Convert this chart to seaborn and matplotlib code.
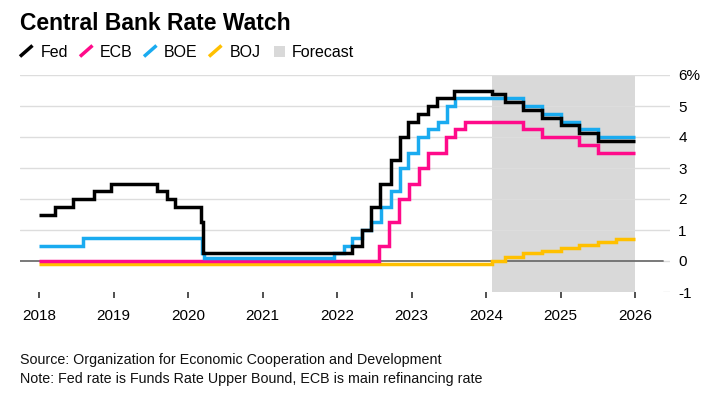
import pandas as pd
import matplotlib.pyplot as plt
import seaborn as sns
from matplotlib.lines import Line2D
from matplotlib.patches import Rectangle

# Policy rate paths (step changes), history + OECD forecast from Feb 2024
fed_dates = ["2018-01-01", "2018-03-22", "2018-06-14", "2018-09-27", "2018-12-20",
             "2019-08-01", "2019-09-19", "2019-10-31", "2020-03-04", "2020-03-16",
             "2022-03-17", "2022-05-05", "2022-06-16", "2022-07-28", "2022-09-22",
             "2022-11-03", "2022-12-15", "2023-02-02", "2023-03-23", "2023-05-04",
             "2023-07-27", "2024-02-01", "2024-04-01", "2024-07-01", "2024-10-01",
             "2025-01-01", "2025-04-01", "2025-07-01", "2026-01-01"]
fed_rates = [1.50, 1.75, 2.00, 2.25, 2.50,
             2.25, 2.00, 1.75, 1.25, 0.25,
             0.50, 1.00, 1.75, 2.50, 3.25,
             4.00, 4.50, 4.75, 5.00, 5.25,
             5.50, 5.375, 5.125, 4.875, 4.625,
             4.375, 4.125, 3.875, 3.875]

ecb_dates = ["2018-01-01", "2022-07-27", "2022-09-14", "2022-11-02", "2022-12-21",
             "2023-02-08", "2023-03-22", "2023-06-21", "2023-08-02", "2023-09-20",
             "2024-07-01", "2024-10-01", "2025-04-01", "2025-07-01", "2026-01-01"]
ecb_rates = [0.00, 0.50, 1.25, 2.00, 2.50,
             3.00, 3.50, 4.00, 4.25, 4.50,
             4.25, 4.00, 3.75, 3.50, 3.50]

boe_dates = ["2018-01-01", "2018-08-02", "2020-03-11", "2020-03-19", "2021-12-16",
             "2022-02-03", "2022-03-17", "2022-05-05", "2022-06-16", "2022-08-04",
             "2022-09-22", "2022-11-03", "2022-12-15", "2023-02-02", "2023-03-23",
             "2023-05-11", "2023-06-22", "2023-08-03", "2024-07-01", "2024-10-01",
             "2025-01-01", "2025-04-01", "2025-07-01", "2026-01-01"]
boe_rates = [0.50, 0.75, 0.25, 0.10, 0.25,
             0.50, 0.75, 1.00, 1.25, 1.75,
             2.25, 3.00, 3.50, 4.00, 4.25,
             4.50, 5.00, 5.25, 5.00, 4.75,
             4.50, 4.25, 4.00, 4.00]

boj_dates = ["2018-01-01", "2024-02-01", "2024-04-01", "2024-07-01", "2024-10-01",
             "2025-01-01", "2025-04-01", "2025-07-01", "2025-10-01", "2026-01-01"]
boj_rates = [-0.10, 0.00, 0.125, 0.25, 0.325,
             0.425, 0.525, 0.625, 0.725, 0.725]

banks = ["Fed", "ECB", "BOE", "BOJ"]
colors = {"Fed": "#000000", "ECB": "#ff0a8a", "BOE": "#1aabf0", "BOJ": "#ffc000"}
forecast_start, forecast_end = "2024-02-01", "2026-01-01"
years = list(range(2018, 2027))

rows = []
for bank, dates, rates in [("Fed", fed_dates, fed_rates), ("ECB", ecb_dates, ecb_rates),
                           ("BOE", boe_dates, boe_rates), ("BOJ", boj_dates, boj_rates)]:
    for d, r in zip(dates, rates):
        rows.append({"date": pd.Timestamp(d), "rate": r, "bank": bank})
df = pd.DataFrame(rows)

sns.set_style("white")
plt.rcParams["font.family"] = ["Liberation Sans", "DejaVu Sans"]
plt.rcParams["text.color"] = "black"

W, H = 713, 394
fig = plt.figure(figsize=(W / 100, H / 100), dpi=100)
ax = fig.add_axes([20 / W, 1 - 292 / H, 650 / W, (292 - 75) / H])

# background: forecast band, grid, zero line
ax.axvspan(pd.Timestamp(forecast_start), pd.Timestamp(forecast_end),
           color="#d9d9d9", lw=0, zorder=0)
for v in range(1, 7):
    ax.axhline(v, color="#dddddd", lw=1, zorder=0.5)
ax.axhline(0, xmax=0.989, color="#6e6e6e", lw=1.3, zorder=1)
ax.axhline(0, xmin=0.989, color="#dddddd", lw=1, zorder=0.5)
ax.axhline(-1, xmin=0.989, color="#dddddd", lw=1, zorder=0.5)

sns.lineplot(data=df, x="date", y="rate", hue="bank",
             hue_order=["BOJ", "ECB", "BOE", "Fed"], palette=colors,
             drawstyle="steps-post", estimator=None, linewidth=2.5,
             solid_joinstyle="miter", solid_capstyle="butt",
             legend=False, ax=ax, zorder=3)

ax.set_xlim(pd.Timestamp("2017-09-29"), pd.Timestamp("2026-06-21"))
ax.set_ylim(-1, 6)
ax.set_xlabel("")
ax.set_ylabel("")
ax.grid(False)
for s in ax.spines.values():
    s.set_visible(False)

ax.yaxis.tick_right()
ax.set_yticks(range(-1, 7))
ax.set_yticklabels(["-1", "0", "1", "2", "3", "4", "5", "6%"])
ax.tick_params(axis="y", length=0, pad=6, labelsize=11, labelcolor="black")

ax.set_xticks([pd.Timestamp(f"{y}-01-01") for y in years])
ax.set_xticklabels([str(y) for y in years])
ax.tick_params(axis="x", bottom=True, length=4, width=1.2, color="#333333",
               pad=8, labelsize=11, labelcolor="black")

# title and legend row
fig.text(20 / W, 1 - 30 / H, "Central Bank Rate Watch", fontsize=16.5,
         fontweight="bold", va="baseline")
legend_pos = {"Fed": (20, 41), "ECB": (80, 100), "BOE": (144, 164), "BOJ": (209, 230)}
for bank in banks:
    x0, xt = legend_pos[bank]
    fig.add_artist(Line2D([x0 / W, (x0 + 12.5) / W], [1 - 56.5 / H, 1 - 45.5 / H],
                          transform=fig.transFigure, color=colors[bank], lw=2.5,
                          solid_capstyle="butt"))
    fig.text(xt / W, 1 - 56.7 / H, bank, fontsize=11.5, va="baseline")
fig.add_artist(Rectangle((274 / W, 1 - 56.7 / H), 10.5 / W, 10.5 / H,
                         transform=fig.transFigure, color="#d9d9d9", lw=0))
fig.text(291.5 / W, 1 - 56.7 / H, "Forecast", fontsize=11.5, va="baseline")

# footnotes
fig.text(20 / W, 1 - 364 / H, "Source: Organization for Economic Cooperation and Development",
         fontsize=10.3, va="baseline", color="#111111")
fig.text(20 / W, 1 - 383 / H, "Note: Fed rate is Funds Rate Upper Bound, ECB is main refinancing rate",
         fontsize=10.3, va="baseline", color="#111111")

fig.savefig("out.png", dpi=100)
